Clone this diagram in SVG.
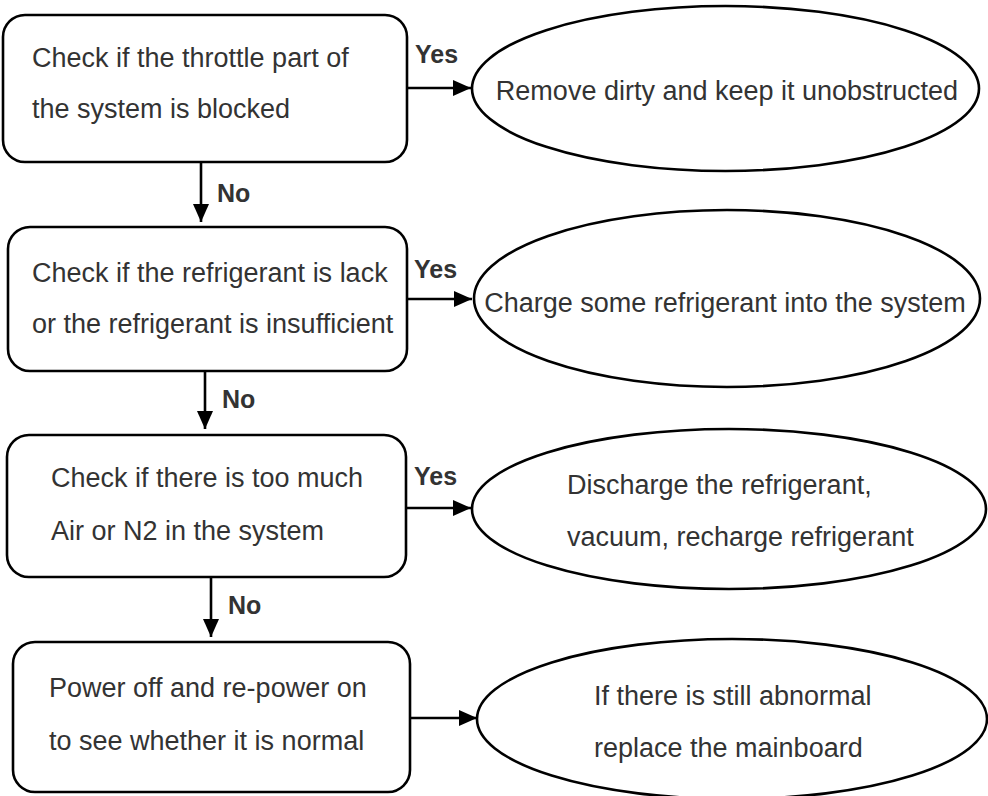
<svg xmlns="http://www.w3.org/2000/svg" width="988" height="796" viewBox="0 0 988 796">
<defs>
<style>
.box{fill:#fff;stroke:#000;stroke-width:2.6}
.t{font-family:"Liberation Sans",Arial,sans-serif;font-size:27px;fill:#333}
.lbl{font-family:"Liberation Sans",Arial,sans-serif;font-size:25px;font-weight:bold;fill:#333}
.c{fill:none;stroke:#000;stroke-width:2.6}
</style>
<marker id="ah" markerUnits="userSpaceOnUse" markerWidth="20" markerHeight="18" refX="18" refY="9" orient="auto">
<path d="M0,1 L18,9 L0,17 z" fill="#000"/>
</marker>
</defs>
<rect width="988" height="796" fill="#fff"/>
<g id="connectors">
<line class="c" x1="201" y1="162" x2="201" y2="222" marker-end="url(#ah)"/>
<line class="c" x1="205" y1="371" x2="205" y2="429" marker-end="url(#ah)"/>
<line class="c" x1="211" y1="577" x2="211" y2="637" marker-end="url(#ah)"/>
<line class="c" x1="407" y1="88" x2="471" y2="88" marker-end="url(#ah)"/>
<line class="c" x1="407" y1="299" x2="472" y2="299" marker-end="url(#ah)"/>
<line class="c" x1="406" y1="508" x2="471" y2="508" marker-end="url(#ah)"/>
<line class="c" x1="410" y1="718" x2="477" y2="718" marker-end="url(#ah)"/>
<text class="lbl" x="217" y="202">No</text>
<text class="lbl" x="222" y="408">No</text>
<text class="lbl" x="228" y="614">No</text>
<text class="lbl" x="415" y="63">Yes</text>
<text class="lbl" x="414" y="278">Yes</text>
<text class="lbl" x="414" y="485">Yes</text>
</g>
<g id="check1">
<rect class="box" x="3" y="15" width="404" height="147" rx="22"/>
<text class="t" x="32" y="67">Check if the throttle part of</text>
<text class="t" x="32" y="118">the system is blocked</text>
</g>
<g id="check2">
<rect class="box" x="8" y="227" width="399" height="144" rx="22"/>
<text class="t" x="32" y="282">Check if the refrigerant is lack</text>
<text class="t" x="32" y="333">or the refrigerant is insufficient</text>
</g>
<g id="check3">
<rect class="box" x="7" y="435" width="399" height="142" rx="22"/>
<text class="t" x="51" y="487">Check if there is too much</text>
<text class="t" x="51" y="540">Air or N2 in the system</text>
</g>
<g id="check4">
<rect class="box" x="13" y="642" width="397" height="150" rx="22"/>
<text class="t" x="49" y="697">Power off and re-power on</text>
<text class="t" x="49" y="750">to see whether it is normal</text>
</g>
<g id="remove">
<ellipse class="box" cx="725.5" cy="88.5" rx="253.5" ry="82.5"/>
<text class="t" x="727" y="100" text-anchor="middle">Remove dirty and keep it unobstructed</text>
</g>
<g id="charge">
<ellipse class="box" cx="727" cy="298.5" rx="253" ry="88.5"/>
<text class="t" x="725" y="312" text-anchor="middle">Charge some refrigerant into the system</text>
</g>
<g id="discharge">
<ellipse class="box" cx="729" cy="509" rx="257" ry="80"/>
<text class="t" x="567" y="494">Discharge the refrigerant,</text>
<text class="t" x="567" y="546">vacuum, recharge refrigerant</text>
</g>
<g id="replace">
<ellipse class="box" cx="732" cy="719" rx="255" ry="80"/>
<text class="t" x="594" y="705">If there is still abnormal</text>
<text class="t" x="594" y="757">replace the mainboard</text>
</g>
</svg>
